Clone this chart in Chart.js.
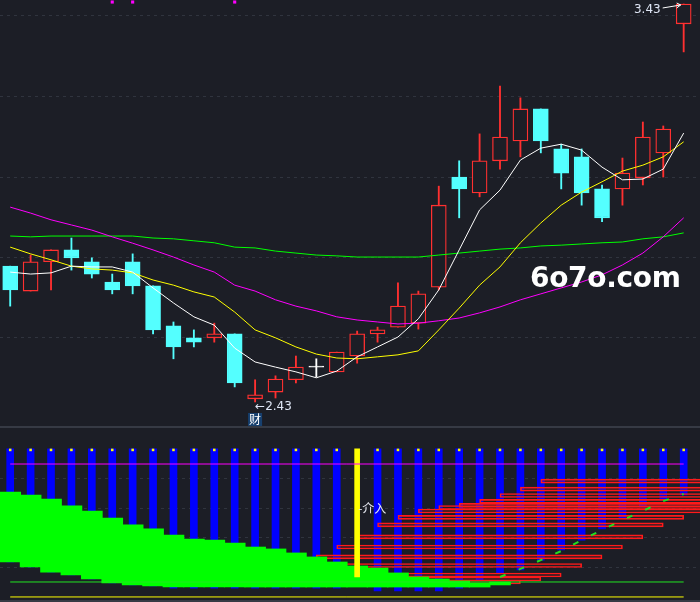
<!DOCTYPE html>
<html>
<head>
<meta charset="utf-8">
<script src="https://cdn.jsdelivr.net/npm/chart.js@4.4.1/dist/chart.umd.min.js"></script>
<style>
  html, body { margin: 0; padding: 0; background: #1c1e26; }
  #wrap { position: relative; width: 700px; height: 602px; overflow: hidden; background: #1c1e26; }
  #topBox { position: absolute; left: 0; top: 0; width: 700px; height: 426px; }
  #botBox { position: absolute; left: 0; top: 428px; width: 700px; height: 172px; }
  .sep { position: absolute; left: 0; width: 700px; height: 2px; background: #363a44; }
  #mark { position: absolute; left: 530px; top: 261px; font: bold 28px "DejaVu Sans"; color: #fff; letter-spacing: -0.3px; }
</style>
</head>
<body>
<div id="wrap">
  <div id="topBox"><canvas id="kline"></canvas></div>
  <div class="sep" style="top:426px"></div>
  <div id="botBox"><canvas id="chips"></canvas></div>
  <div class="sep" style="top:600px"></div>
  <div id="mark">6o7o.com</div>
</div>
<script>
// K线数据
const days = [0,1,2,3,4,5,6,7,8,9,10,11,12,13,14,15,16,17,18,19,20,21,22,23,24,25,26,27,28,29,30,31,32,33];
const opens  = [2.768,2.705,2.779,2.809,2.779,2.728,2.779,2.718,2.617,2.587,2.587,2.597,2.433,2.450,2.481,2.513,2.501,2.541,2.597,2.614,2.624,2.715,2.993,2.953,3.034,3.084,3.165,3.064,3.044,2.963,2.963,2.991,3.054,3.380];
const highs  = [2.768,2.796,2.809,2.839,2.789,2.748,2.799,2.718,2.627,2.607,2.624,2.597,2.481,2.491,2.541,2.534,2.551,2.604,2.614,2.726,2.705,2.970,3.034,3.102,3.223,3.193,3.165,3.076,3.064,2.973,3.041,3.132,3.122,3.430];
const lows   = [2.667,2.705,2.708,2.758,2.738,2.698,2.698,2.597,2.534,2.564,2.576,2.463,2.425,2.435,2.473,2.488,2.501,2.523,2.576,2.614,2.609,2.708,2.890,2.943,3.013,3.044,3.054,2.963,2.922,2.880,2.922,2.973,2.993,3.309];
const closes = [2.708,2.779,2.809,2.789,2.748,2.708,2.718,2.607,2.564,2.576,2.597,2.473,2.443,2.483,2.513,2.513,2.551,2.597,2.607,2.667,2.698,2.922,2.963,3.034,3.094,3.165,3.084,3.003,2.953,2.890,3.003,3.094,3.114,3.430];

// 均线
const ma5   = [2.753,2.748,2.751,2.768,2.766,2.766,2.753,2.713,2.675,2.640,2.619,2.561,2.526,2.513,2.501,2.486,2.503,2.539,2.564,2.589,2.635,2.708,2.809,2.910,2.960,3.036,3.066,3.076,3.061,3.018,2.986,2.988,3.013,3.104];
const ma10  = [2.816,2.799,2.784,2.768,2.761,2.758,2.751,2.733,2.720,2.703,2.690,2.652,2.607,2.587,2.564,2.546,2.536,2.534,2.539,2.544,2.554,2.607,2.662,2.720,2.766,2.827,2.877,2.922,2.955,2.981,3.008,3.023,3.044,3.082];
const ma30  = [2.917,2.902,2.885,2.872,2.859,2.842,2.826,2.809,2.791,2.771,2.753,2.720,2.705,2.683,2.667,2.655,2.640,2.632,2.627,2.622,2.624,2.630,2.637,2.650,2.665,2.683,2.698,2.713,2.728,2.746,2.771,2.801,2.842,2.890];
const ma120 = [2.844,2.842,2.844,2.844,2.844,2.844,2.844,2.839,2.837,2.832,2.827,2.816,2.814,2.806,2.801,2.796,2.794,2.791,2.791,2.791,2.791,2.796,2.801,2.806,2.811,2.814,2.819,2.821,2.824,2.827,2.829,2.837,2.842,2.852];

const priceGrid = [3.400, 3.197, 2.993, 2.790, 2.587];
const signalDays = [5, 6, 11];
const signalLevel = 3.435;
const lowDay = 12, lowText = '2.43', lowTag = '财';
const highDay = 33, highText = '3.43';

// 副图
const blueTop = 88;
const blueBottoms = [23.0,20.1,17.2,15.5,13.2,10.9,9.8,9.2,8.0,8.0,8.0,8.0,8.0,8.0,8.0,8.0,8.0,null,6.3,6.3,6.3,6.3,8.0,12.6,16.7,18.4,24.1,29.9,35.6,42.0,48.3,54.6,58.6,61.5];
const capLevel = 87.4;
const entryDay = 17;
const entryBar = [14.4, 88];
const entryText = '-介入';
const entryTextLevel = 54;
const greenTops    = [63.2,61.5,59.2,55.2,52.3,48.3,44.3,42.0,38.5,36.2,35.6,33.9,31.6,30.5,28.2,25.9,23.0,20.7,19.5,16.7,14.4,13.2,12.1,10.9,11.5];
const greenBottoms = [23.0,20.1,17.2,15.5,13.2,10.9,9.8,9.2,8.6,8.6,8.6,8.6,8.6,8.6,8.6,8.6,8.6,8.6,8.6,8.6,8.6,8.6,8.6,8.6,9.8];
const costDays   = [24,25,26,27,28,29,30,31,32,33];
const costValues = [14.4,19.0,24.1,29.3,35.6,41.4,47.1,52.3,58.0,62.1];
const chipStarts = [11,12,13,14,15,16,17,18,19,20,21,22,23,24,25,26];
const chipLevels = [11.5,13.2,15.5,21.0,25.9,31.6,37.4,44.3,48.6,52.3,54.3,55.5,57.8,61.2,64.9,69.5];
const chipSpan = 14;
const levelMagenta = 79.3, levelGreen = 11.5, levelYellow = 2.9;
const lowerGrid = [70.7, 54.0, 36.8, 20.1];

const BG = '#1c1e26', UP = '#ff3030', DOWN = '#54ffff', FLAT = '#ffffff';
const candleColor = days.map(i => closes[i] > opens[i] ? UP : closes[i] < opens[i] ? DOWN : FLAT);
const bodyFill = days.map(i => closes[i] > opens[i] ? BG : candleColor[i]);

const xAxis = { type: 'linear', min: -0.5, max: 33.8, offset: false, display: false, grid: { offset: false } };

const topLabels = {
  id: 'topLabels',
  afterDatasetsDraw(chart) {
    const { ctx, scales: { x, y } } = chart;
    ctx.save();
    ctx.font = '12px "DejaVu Sans"';
    ctx.textBaseline = 'middle';
    const lx = x.getPixelForValue(lowDay), ly = y.getPixelForValue(lows[lowDay]);
    ctx.fillStyle = '#dfe6f5';
    ctx.textAlign = 'left';
    ctx.fillText('←' + lowText, lx, ly + 5);
    ctx.fillStyle = '#17406f';
    ctx.fillRect(lx - 7, ly + 11, 14, 13);
    ctx.fillStyle = '#ffffff';
    ctx.textAlign = 'center';
    ctx.font = '12px "Noto Sans CJK SC"';
    ctx.fillText(lowTag, lx, ly + 17);
    const hx = x.getPixelForValue(highDay), hy = y.getPixelForValue(highs[highDay]);
    ctx.font = '12px "DejaVu Sans"';
    ctx.fillStyle = '#dfe6f5';
    ctx.textAlign = 'right';
    ctx.fillText(highText, hx - 23, hy + 6);
    ctx.strokeStyle = '#ffffff';
    ctx.lineWidth = 1;
    ctx.beginPath();
    ctx.moveTo(hx - 21, hy + 4);
    ctx.lineTo(hx - 3, hy + 1);
    ctx.moveTo(hx - 7, hy - 1);
    ctx.lineTo(hx - 3, hy + 1);
    ctx.lineTo(hx - 7, hy + 4);
    ctx.stroke();
    ctx.restore();
  }
};

new Chart(document.getElementById('kline'), {
  data: {
    labels: days,
    datasets: [
      { type: 'line', data: ma5, borderColor: '#ffffff', borderWidth: 1, pointRadius: 0, order: 0 },
      { type: 'line', data: ma10, borderColor: '#ffff00', borderWidth: 1, pointRadius: 0, order: 0 },
      { type: 'line', data: ma30, borderColor: '#ff00ff', borderWidth: 1, pointRadius: 0, order: 0 },
      { type: 'line', data: ma120, borderColor: '#00ff00', borderWidth: 1, pointRadius: 0, order: 0 },
      { type: 'line', data: days.map(i => signalDays.includes(i) ? signalLevel : null), showLine: false,
        pointStyle: 'rect', pointRadius: 2.2, pointBackgroundColor: '#ff00ff', pointBorderWidth: 0, order: 0 },
      { type: 'bar', data: days.map(i => [opens[i], closes[i]]), backgroundColor: bodyFill, borderColor: candleColor,
        borderWidth: 1.3, borderSkipped: false, barThickness: 15, minBarLength: 1, grouped: false, order: 1 },
      { type: 'bar', data: days.map(i => [lows[i], highs[i]]), backgroundColor: candleColor,
        borderWidth: 0, barThickness: 1.2, grouped: false, order: 2 }
    ]
  },
  options: {
    responsive: true, maintainAspectRatio: false, animation: false, events: [],
    layout: { padding: 0, autoPadding: false },
    plugins: { legend: { display: false }, tooltip: { enabled: false } },
    scales: {
      x: xAxis,
      y: { type: 'linear', min: 2.3643, max: 3.4401, offset: false,
        grid: { color: '#30343e', drawTicks: false, offset: false },
        border: { display: false, dash: [3, 4] },
        ticks: { display: false },
        afterBuildTicks: s => { s.ticks = priceGrid.map(v => ({ value: v })); } }
    }
  },
  plugins: [topLabels]
});

const botLabels = {
  id: 'botLabels',
  afterDatasetsDraw(chart) {
    const { ctx, scales: { x, y } } = chart;
    ctx.save();
    ctx.font = '12px "Noto Sans CJK SC"';
    ctx.fillStyle = '#e6e8f0';
    ctx.textAlign = 'left';
    ctx.textBaseline = 'middle';
    ctx.fillText(entryText, x.getPixelForValue(entryDay) + 1, y.getPixelForValue(entryTextLevel));
    ctx.restore();
  }
};

const firstDay = days[0], lastDay = days[days.length - 1];
const levelLine = (v, color) => ({ type: 'line', data: [{ x: firstDay, y: v }, { x: lastDay, y: v }],
  borderColor: color, borderWidth: 1, pointRadius: 0, order: 1 });

new Chart(document.getElementById('chips'), {
  data: {
    labels: days,
    datasets: [
      { type: 'bar', data: days.map(i => blueBottoms[i] === null ? null : [blueBottoms[i], blueTop]),
        backgroundColor: '#0000ff', barThickness: 7, grouped: false, order: 6 },
      { type: 'bar', indexAxis: 'y', data: chipStarts.map((s, k) => ({ x: [s, s + chipSpan], y: chipLevels[k] })),
        backgroundColor: 'rgba(0,0,0,0)', borderColor: '#ff1a1a', borderWidth: 1, borderSkipped: false,
        barThickness: 4, grouped: false, order: 5 },
      { type: 'bar', data: days.map(i => i < greenTops.length ? [greenBottoms[i], greenTops[i]] : null),
        backgroundColor: '#00ff00', borderWidth: 0, barThickness: 21, grouped: false, order: 4 },
      { type: 'bar', data: days.map(i => i === entryDay ? entryBar : null),
        backgroundColor: '#ffff00', barThickness: 5, grouped: false, order: 2 },
      { type: 'line', data: days.map(i => blueBottoms[i] === null ? null : capLevel), showLine: false,
        pointStyle: 'rect', pointRadius: 1.8, pointBackgroundColor: '#ffff00', pointBorderWidth: 0, order: 1 },
      levelLine(levelMagenta, '#ff00ff'),
      levelLine(levelGreen, '#22e622'),
      levelLine(levelYellow, '#ffff00'),
      { type: 'line', data: costDays.map((d, k) => ({ x: d, y: costValues[k] })),
        borderColor: '#22dd22', borderWidth: 2, borderDash: [6, 14], pointRadius: 0, order: 0 }
    ]
  },
  options: {
    responsive: true, maintainAspectRatio: false, animation: false, events: [],
    layout: { padding: 0, autoPadding: false },
    plugins: { legend: { display: false }, tooltip: { enabled: false } },
    scales: {
      x: xAxis,
      y: { type: 'linear', min: 1.15, max: 100, offset: false,
        grid: { color: '#30343e', drawTicks: false, offset: false },
        border: { display: false, dash: [3, 4] },
        ticks: { display: false },
        afterBuildTicks: s => { s.ticks = lowerGrid.map(v => ({ value: v })); } }
    }
  },
  plugins: [botLabels]
});
</script>
</body>
</html>
